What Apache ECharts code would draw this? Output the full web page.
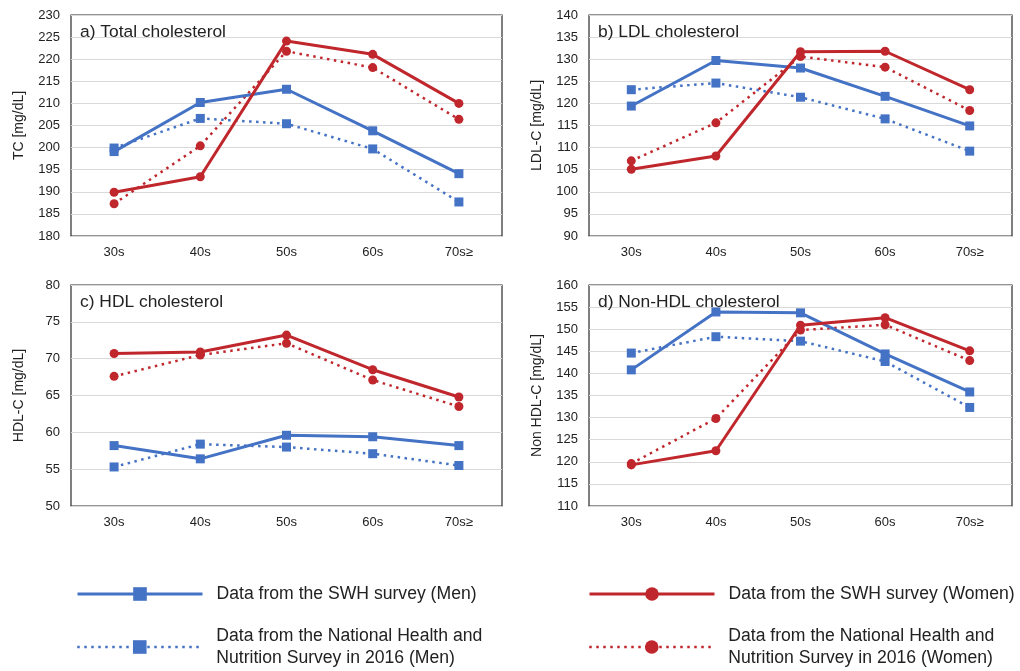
<!DOCTYPE html>
<html>
<head>
<meta charset="utf-8">
<script src="https://cdn.jsdelivr.net/npm/echarts@6/dist/echarts.min.js"></script>
<style>
html,body{margin:0;padding:0;background:#fff;}
#main{width:1020px;height:671px;}
</style>
</head>
<body>
<div id="main"></div>
<script>
const categories = ['30s', '40s', '50s', '60s', '70s≥'];

const seriesNames = [
  'Data from the SWH survey (Men)',
  'Data from the National Health and Nutrition Survey in 2016 (Men)',
  'Data from the SWH survey (Women)',
  'Data from the National Health and Nutrition Survey in 2016 (Women)'
];

// a) Total cholesterol
const tcMenSWH     = [199.1, 210.2, 213.2, 203.8, 194.1];
const tcMenNHNS    = [199.9, 206.6, 205.4, 199.7, 187.7];
const tcWomenSWH   = [189.9, 193.4, 224.1, 221.1, 210.0];
const tcWomenNHNS  = [187.3, 200.4, 221.8, 218.1, 206.4];

// b) LDL cholesterol
const ldlMenSWH    = [119.4, 129.7, 128.0, 121.6, 114.9];
const ldlMenNHNS   = [123.1, 124.6, 121.4, 116.5, 109.2];
const ldlWomenSWH  = [105.1, 108.1, 131.7, 131.8, 123.1];
const ldlWomenNHNS = [107.0, 115.6, 130.6, 128.2, 118.4];

// c) HDL cholesterol
const hdlMenSWH    = [58.2, 56.4, 59.6, 59.4, 58.2];
const hdlMenNHNS   = [55.3, 58.4, 58.0, 57.1, 55.5];
const hdlWomenSWH  = [70.7, 70.9, 73.2, 68.5, 64.8];
const hdlWomenNHNS = [67.6, 70.5, 72.1, 67.1, 63.5];

// d) Non-HDL cholesterol
const nonMenSWH    = [140.8, 153.9, 153.7, 144.4, 135.8];
const nonMenNHNS   = [144.6, 148.3, 147.3, 142.7, 132.3];
const nonWomenSWH  = [119.3, 122.5, 150.9, 152.6, 145.1];
const nonWomenNHNS = [119.6, 129.8, 149.8, 151.0, 142.9];

const panelTitles = ['a) Total cholesterol', 'b) LDL cholesterol', 'c) HDL cholesterol', 'd) Non-HDL cholesterol'];
const yNames = ['TC [mg/dL]', 'LDL-C [mg/dL]', 'HDL-C [mg/dL]', 'Non HDL-C [mg/dL]'];
const yMins = [180, 90, 50, 110];
const yMaxs = [230, 140, 80, 160];
const panelData = [
  [tcMenSWH, tcMenNHNS, tcWomenSWH, tcWomenNHNS],
  [ldlMenSWH, ldlMenNHNS, ldlWomenSWH, ldlWomenNHNS],
  [hdlMenSWH, hdlMenNHNS, hdlWomenSWH, hdlWomenNHNS],
  [nonMenSWH, nonMenNHNS, nonWomenSWH, nonWomenNHNS]
];

const BLUE = '#4472C4';
const RED = '#C0272D';
const FONT = '"Liberation Sans", Arial, sans-serif';
const TXT = '#222';

const grids = [
  {left: 71, top: 15, width: 431, height: 221},
  {left: 589, top: 15, width: 423, height: 221},
  {left: 71, top: 285, width: 431, height: 221},
  {left: 589, top: 285, width: 423, height: 221}
];

const styleDefs = [
  {color: BLUE, symbol: 'rect', dotted: false},
  {color: BLUE, symbol: 'rect', dotted: true},
  {color: RED, symbol: 'circle', dotted: false},
  {color: RED, symbol: 'circle', dotted: true}
];

const option = {
  animation: false,
  backgroundColor: '#fff',
  textStyle: {fontFamily: FONT},
  title: panelTitles.map((t, i) => ({
    text: t,
    left: grids[i].left + 9,
    top: grids[i].top + 9,
    padding: 0,
    textStyle: {fontFamily: FONT, fontSize: 17.4, fontWeight: 'normal', color: TXT}
  })),
  grid: grids.map(g => Object.assign({show: true, borderColor: '#2b2b2b', borderWidth: 1.2, backgroundColor: 'transparent', containLabel: false}, g)),
  xAxis: grids.map((g, i) => ({
    type: 'category',
    gridIndex: i,
    data: categories,
    boundaryGap: true,
    axisLine: {show: false},
    axisTick: {show: false},
    axisLabel: {color: TXT, fontSize: 13, fontFamily: FONT, margin: 10},
    splitLine: {show: false}
  })),
  yAxis: grids.map((g, i) => ({
    type: 'value',
    gridIndex: i,
    min: yMins[i],
    max: yMaxs[i],
    interval: 5,
    name: yNames[i],
    nameLocation: 'middle',
    nameGap: 45,
    nameTextStyle: {color: TXT, fontSize: 14, fontFamily: FONT},
    axisLine: {show: false},
    axisTick: {show: false},
    axisLabel: {color: TXT, fontSize: 13, fontFamily: FONT, margin: 11},
    splitLine: {show: true, lineStyle: {color: '#d9d9d9', width: 1}}
  })),
  legend: [
    {idx: 0, left: 76, top: 583},
    {idx: 2, left: 588, top: 583},
    {idx: 1, left: 76, top: 625},
    {idx: 3, left: 588, top: 625}
  ].map(l => ({
    data: [seriesNames[l.idx]],
    left: l.left,
    top: l.top,
    orient: 'horizontal',
    padding: 0,
    itemWidth: 125,
    itemHeight: 17,
    itemGap: 16,
    selectedMode: false,
    lineStyle: styleDefs[l.idx].dotted
      ? {width: 2.5, type: [2.5, 4.5]}
      : {width: 3, type: 'solid'},
    formatter: function (name) {
      return name.replace('National Health and ', 'National Health and\n');
    },
    textStyle: {color: TXT, fontSize: 17.6, fontFamily: FONT, lineHeight: 22, padding: [0, 0, 0, 9]}
  })),
  series: []
};

panelData.forEach((arrs, p) => {
  arrs.forEach((vals, s) => {
    const d = styleDefs[s];
    option.series.push({
      name: seriesNames[s],
      type: 'line',
      xAxisIndex: p,
      yAxisIndex: p,
      data: vals,
      symbol: d.symbol,
      symbolSize: 9,
      showSymbol: true,
      z: d.dotted ? 2 : 3,
      itemStyle: {color: d.color},
      lineStyle: d.dotted
        ? {color: d.color, width: 2.5, type: [2.5, 4.5]}
        : {color: d.color, width: 3, type: 'solid'},
      emphasis: {disabled: true}
    });
  });
});

const chart = echarts.init(document.getElementById('main'), null, {renderer: 'canvas'});
chart.setOption(option);
</script>
</body>
</html>
